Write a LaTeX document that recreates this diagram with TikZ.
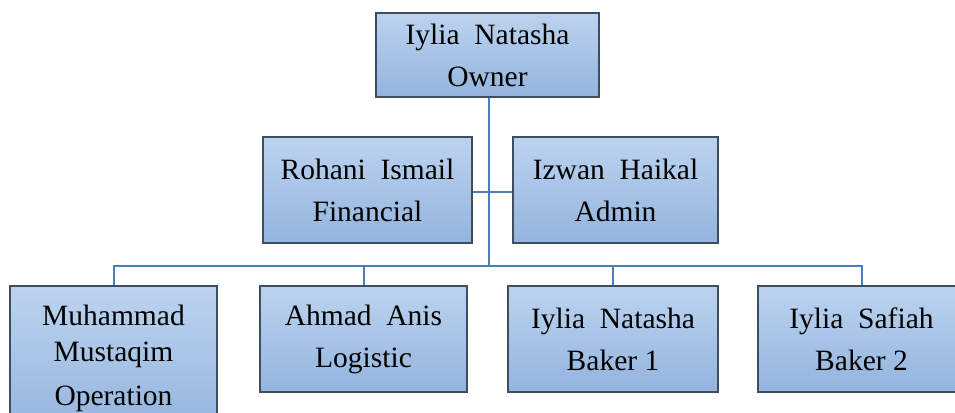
\documentclass[tikz,border=0pt]{standalone}
\usepackage{fontspec}
\setmainfont{Liberation Serif}

\definecolor{boxtop}{HTML}{BCD3EF}
\definecolor{boxbot}{HTML}{93B4DE}
\definecolor{boxline}{HTML}{3E4E60}
\definecolor{wire}{HTML}{4A7EBB}

\begin{document}
\begin{tikzpicture}[x=1pt,y=1pt,
    person/.style={draw=boxline,line width=1.4pt,top color=boxtop,bottom color=boxbot,
      align=center,inner sep=0pt,font=\fontsize{29.5}{42}\selectfont},
    wire/.style={draw=wire,line width=2pt}]

          \clip (0,0) rectangle (955,412);

          \node[person,minimum width=223,minimum height=84] (owner) at (487.5,357) {Iylia\ \ Natasha\\Owner};

          \node[person,minimum width=209,minimum height=106] (fin) at (367.5,222) {Rohani\ \ Ismail\\Financial};
          \node[person,minimum width=205,minimum height=106] (admin) at (615.5,222) {Izwan\ \ Haikal\\Admin};

          \node[person,minimum width=207,minimum height=150] (ops) at (113.5,51) {};
          \node[align=center,font=\fontsize{29.5}{36}\selectfont] (opstext) at (113.5,54) {Muhammad\\Mustaqim\\[8pt]Operation};
          \node[person,minimum width=207,minimum height=106] (logi) at (363.5,73) {Ahmad\ \ Anis\\Logistic};
          \node[person,minimum width=210,minimum height=106] (bak1) at (613,73) {Iylia\ \ Natasha\\Baker 1};
          \node[person,minimum width=207,minimum height=106] (bak2) at (861.5,73) {Iylia\ \ Safiah\\Baker 2};

          \coordinate (bus) at (489,146);
          \coordinate (mid) at (489,220);

          \draw[wire] (bus |- owner.south) -- (bus);
          \draw[wire] (fin.east |- mid) -- (mid) -- (admin.west |- mid);

          \foreach \n in {ops,logi,bak1,bak2}{
            \draw[wire] (\n.north) |- (bus);
          }

        \end{tikzpicture}
\end{document}
